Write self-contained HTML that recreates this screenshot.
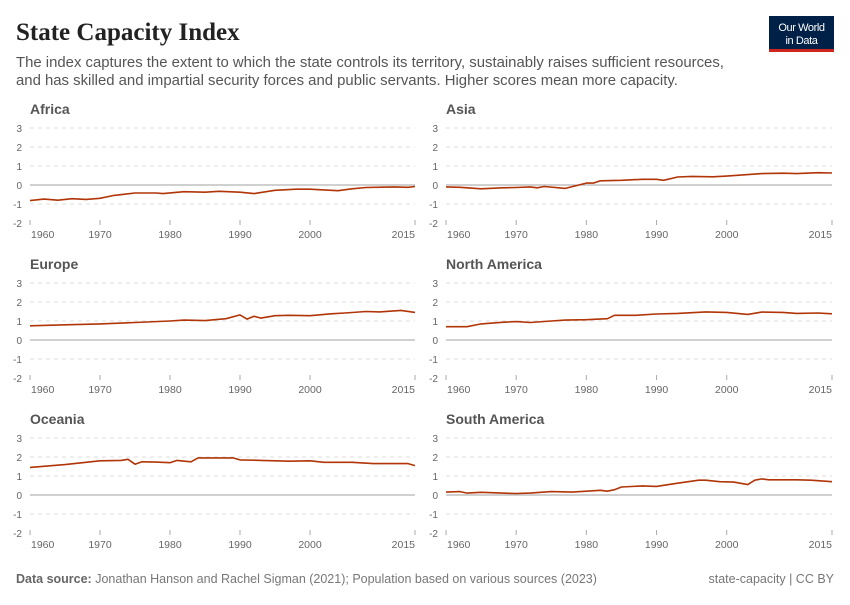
<!DOCTYPE html>
<html><head><meta charset="utf-8">
<style>
body{margin:0;background:#fff;width:850px;height:600px;overflow:hidden;font-family:"Liberation Sans",sans-serif;}
svg text{font-family:"Liberation Sans",sans-serif;}
</style></head><body>
<svg id="s" width="850" height="600" xmlns="http://www.w3.org/2000/svg">
<text x="16" y="40" font-size="25" font-weight="bold" fill="#222" style="font-family:'Liberation Serif',serif">State Capacity Index</text>
<text x="16" y="67" font-size="14.9" fill="#555">The index captures the extent to which the state controls its territory, sustainably raises sufficient resources,</text>
<text x="16" y="85" font-size="14.9" fill="#555">and has skilled and impartial security forces and public servants. Higher scores mean more capacity.</text>
<rect x="769" y="16" width="65" height="35" fill="#002147"/>
<rect x="769" y="49" width="65" height="3" fill="#ce261e"/>
<text x="801.5" y="31" font-size="11" fill="#fff" text-anchor="middle" letter-spacing="-0.4">Our World</text>
<text x="801.5" y="44" font-size="11" fill="#fff" text-anchor="middle" letter-spacing="-0.4">in Data</text>
<text x="16" y="583" font-size="12.5" fill="#777"><tspan font-weight="bold" fill="#666">Data source:</tspan> Jonathan Hanson and Rachel Sigman (2021); Population based on various sources (2023)</text>
<text x="834" y="583" font-size="12.5" fill="#777" text-anchor="end">state-capacity | CC BY</text>
<g id="g"></g>
</svg>
<script>
var P=[
["Africa",30,415,128,[[1960,-0.82],[1962,-0.74],[1964,-0.8],[1966,-0.72],[1968,-0.76],[1970,-0.7],[1972,-0.55],[1975,-0.42],[1978,-0.42],[1979,-0.45],[1982,-0.35],[1985,-0.38],[1987,-0.33],[1990,-0.38],[1992,-0.45],[1995,-0.28],[1998,-0.22],[2000,-0.22],[2004,-0.3],[2006,-0.2],[2008,-0.13],[2012,-0.1],[2014,-0.12],[2015,-0.08]]],
["Asia",446,832,128,[[1960,-0.1],[1962,-0.12],[1965,-0.2],[1968,-0.15],[1970,-0.13],[1972,-0.1],[1973,-0.15],[1974,-0.08],[1977,-0.18],[1980,0.1],[1981,0.1],[1982,0.22],[1985,0.25],[1988,0.3],[1990,0.3],[1991,0.25],[1993,0.42],[1995,0.45],[1998,0.43],[2000,0.47],[2003,0.55],[2005,0.6],[2008,0.62],[2010,0.6],[2013,0.65],[2015,0.63]]],
["Europe",30,415,283,[[1960,0.75],[1965,0.8],[1970,0.85],[1975,0.92],[1980,1.0],[1982,1.05],[1985,1.02],[1988,1.12],[1990,1.32],[1991,1.1],[1992,1.25],[1993,1.15],[1995,1.28],[1997,1.3],[2000,1.28],[2003,1.38],[2005,1.42],[2008,1.5],[2010,1.48],[2013,1.56],[2015,1.45]]],
["North America",446,832,283,[[1960,0.7],[1963,0.7],[1965,0.85],[1968,0.93],[1970,0.97],[1972,0.92],[1975,1.0],[1977,1.05],[1980,1.07],[1983,1.12],[1984,1.3],[1987,1.3],[1990,1.37],[1993,1.4],[1997,1.48],[2000,1.45],[2003,1.35],[2005,1.47],[2008,1.45],[2010,1.4],[2013,1.42],[2015,1.38]]],
["Oceania",30,415,438,[[1960,1.45],[1965,1.6],[1970,1.8],[1973,1.82],[1974,1.88],[1975,1.62],[1976,1.75],[1978,1.73],[1980,1.7],[1981,1.82],[1983,1.75],[1984,1.95],[1989,1.95],[1990,1.85],[1993,1.82],[1997,1.78],[2000,1.8],[2002,1.72],[2006,1.72],[2009,1.65],[2013,1.65],[2014,1.65],[2015,1.55]]],
["South America",446,832,438,[[1960,0.15],[1962,0.18],[1963,0.1],[1965,0.14],[1968,0.1],[1970,0.08],[1972,0.1],[1975,0.18],[1978,0.15],[1980,0.2],[1982,0.25],[1983,0.2],[1984,0.28],[1985,0.42],[1988,0.48],[1990,0.45],[1993,0.62],[1996,0.78],[1997,0.78],[1999,0.7],[2001,0.68],[2003,0.55],[2004,0.78],[2005,0.85],[2006,0.8],[2010,0.8],[2012,0.78],[2015,0.7]]]
];
var h="";
P.forEach(function(p){
 var t=p[0],x0=p[1],x1=p[2],y3=p[3],d=p[4];
 var ky=19,X=function(y){return x0+(y-1960)*(x1-x0)/55},Y=function(v){return y3+(3-v)*ky};
 h+='<text x="'+x0+'" y="'+(y3-14)+'" font-size="14" font-weight="bold" fill="#555">'+t+'</text>';
 for(var v=3;v>=-2;v--){
  var y=Y(v);
  h+='<text x="'+(x0-8)+'" y="'+(y+4)+'" font-size="10" fill="#666" text-anchor="end">'+v+'</text>';
  if(v==0)h+='<line x1="'+x0+'" x2="'+x1+'" y1="'+y+'" y2="'+y+'" stroke="#a1a1a1" stroke-width="1"/>';
  else if(v>-2)h+='<line x1="'+x0+'" x2="'+x1+'" y1="'+y+'" y2="'+y+'" stroke="#ddd" stroke-dasharray="4,4"/>';
 }
 var yb=Y(-2);
 [1960,1970,1980,1990,2000,2015].forEach(function(yr){
  var x=X(yr),a=yr==1960?"start":yr==2015?"end":"middle";
  h+='<line x1="'+x+'" x2="'+x+'" y1="'+(yb-3)+'" y2="'+(yb+2)+'" stroke="#aaa"/>';
  h+='<text x="'+(yr==1960?x+1:x)+'" y="'+(yb+15)+'" font-size="10.5" fill="#666" text-anchor="'+a+'">'+yr+'</text>';
 });
 h+='<polyline fill="none" stroke="#b13507" stroke-width="1.6" stroke-linejoin="round" points="'+d.map(function(q){return X(q[0]).toFixed(1)+','+Y(q[1]).toFixed(1)}).join(' ')+'"/>';
});
document.getElementById("g").innerHTML=h;
</script>
</body></html>
